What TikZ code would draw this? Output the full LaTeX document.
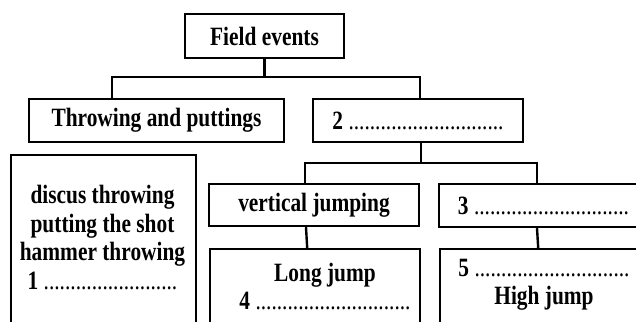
\documentclass[tikz,border=0pt]{standalone}
\usepackage{fontspec}
\setmainfont[FakeStretch=0.81]{Liberation Serif}
\tikzset{
	box/.style={draw, line width=1.2pt, inner sep=0pt, font=\fontsize{13.2}{14}\selectfont\bfseries},
	txt/.style={inner sep=0pt, align=center, font=\fontsize{13.2}{14.2}\selectfont\bfseries},
	link/.style={line width=1.2pt}
}
\newcommand{\blanks}[1]{\mdseries\foreach \k in {1,...,#1}{.}}
\begin{document}
\begin{tikzpicture}[x=0.5pt,y=0.5pt]
	\useasboundingbox (0,0) rectangle (636,-321);
	\clip (0,0) rectangle (636,-321);
	
	\node[box, minimum width=79.5pt, minimum height=22pt] (fe) at (264.5,-36) {Field events};
	\node[box, minimum width=127.5pt, minimum height=21.5pt] (tp) at (156.5,-120.5) {Throwing and puttings};
	\node[box, minimum width=105pt, minimum height=21.5pt] (jmp) at (418,-120.5) {2 \blanks{29}};
	\node[box, minimum width=105pt, minimum height=21pt] (vj) at (314,-205) {vertical jumping};
	\node[box, minimum width=104.5pt, minimum height=21.5pt] (ev3) at (543.5,-205.5) {3 \blanks{29}};
	
	\node[box, minimum width=92.5pt, minimum height=100pt, anchor=north west] (lst) at (10,-154) {};
	\node[txt] (lsttext) at (102.5,-237.5) {discus throwing\\putting the shot\\hammer throwing\\1 \blanks{25}};
	
	\node[box, minimum width=105pt, minimum height=50pt, anchor=north west] (lj) at (209,-248) {};
	\node[txt] (ljtext) at (325,-286.5) {Long jump\\4 \blanks{29}};
	
	\node[box, minimum width=104.5pt, minimum height=50pt, anchor=north west] (ev5) at (439,-248) {};
	\node[txt] (ev5text) at (544,-285) {5 \blanks{29}\\High jump};
	
	\draw[link] (fe.south) -- ++(0,-18) -| ([xshift=-22.25pt]tp.north);
	\draw[link] (fe.south) -- ++(0,-18) -| ([xshift=1pt]jmp.north);
	\draw[link] ([xshift=1.5pt]jmp.south) -- ++(0,-20) -| ([xshift=-4.5pt]vj.north);
	\draw[link] ([xshift=1.5pt]jmp.south) -- ++(0,-20) -| ([xshift=-3.25pt]ev3.north);
	\draw[link] ([xshift=-4pt]vj.south) -- ([xshift=-4pt]lj.north);
	\draw[link] ([xshift=-3.25pt]ev3.south) -- ([xshift=-3.25pt]ev5.north);
\end{tikzpicture}
\end{document}
